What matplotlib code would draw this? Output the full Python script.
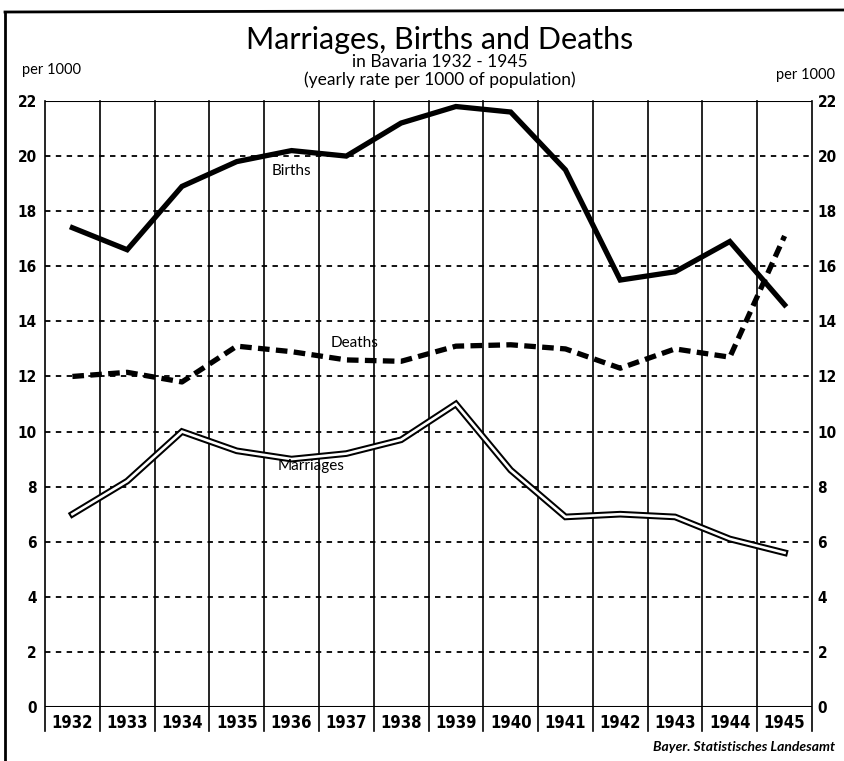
import matplotlib.pyplot as plt
import matplotlib.transforms as mtransforms
import numpy as np

years = ['1932', '1933', '1934', '1935', '1936', '1937', '1938',
         '1939', '1940', '1941', '1942', '1943', '1944', '1945']
births = [17.4, 16.6, 18.9, 19.8, 20.2, 20.0, 21.2, 21.8, 21.6, 19.5, 15.5, 15.8, 16.9, 14.6]
deaths = [12.0, 12.15, 11.8, 13.1, 12.9, 12.6, 12.55, 13.1, 13.15, 13.0, 12.3, 13.0, 12.7, 17.1]
marriages = [7.0, 8.2, 10.0, 9.3, 9.0, 9.2, 9.7, 11.0, 8.6, 6.9, 7.0, 6.9, 6.1, 5.6]
yticks = list(range(0, 23, 2))

plt.rcParams['font.family'] = ['DejaVu Sans']
plt.rcParams['font.stretch'] = 'condensed'

fig = plt.figure(figsize=(8.44, 7.61), dpi=100)
ax = fig.add_axes([45/844, 1 - 707/761, 767/844, 606/761])
x = np.arange(len(years))

ax.set_xlim(-0.5, len(years) - 0.5)
ax.set_ylim(0, 22)

# dashed horizontal grid
for v in yticks[1:-1]:
    ax.axhline(v, color='black', lw=1.3, ls=(0, (3, 3)), zorder=1)
ax.axhline(22, color='black', lw=1.5, zorder=1)
ax.axhline(0, color='black', lw=2.2, zorder=3)

# vertical column lines, running down past the axis
trans = mtransforms.blended_transform_factory(ax.transData, ax.transAxes)
for b in np.arange(-0.5, len(years), 1.0):
    ax.plot([b, b], [-0.04, 1], color='black', lw=1.2, transform=trans,
            clip_on=False, zorder=1)

for s in ax.spines.values():
    s.set_visible(False)

ax.set_xticks([])
ax.set_yticks(yticks)
ax.tick_params(axis='y', length=0, labelsize=11, pad=6)
for t in ax.get_yticklabels():
    t.set_fontweight('bold')
ax2 = ax.twinx()
ax2.set_ylim(0, 22)
ax2.set_yticks(yticks)
ax2.tick_params(axis='y', length=0, labelsize=11, pad=4)
for t in ax2.get_yticklabels():
    t.set_fontweight('bold')
for s in ax2.spines.values():
    s.set_visible(False)

for i, yr in enumerate(years):
    ax.text(i, -0.012, yr, transform=trans, ha='center', va='top',
            fontsize=12, fontweight='bold')

# series
ax.plot(x, births, color='black', lw=3.8, solid_joinstyle='miter', zorder=4)
ax.plot(x, deaths, color='black', lw=3.8, ls=(0, (2.2, 1.2)), zorder=4)
ax.plot(x, marriages, color='black', lw=4.8, solid_joinstyle='miter', zorder=4)
ax.plot(x, marriages, color='white', lw=1.9, solid_joinstyle='miter', zorder=5)

ax.text(4.0, 19.45, 'Births', ha='center', va='center', fontsize=11,
        family=['Lato', 'DejaVu Sans'], zorder=6)
ax.text(5.15, 13.2, 'Deaths', ha='center', va='center', fontsize=11,
        family=['Lato', 'DejaVu Sans'], zorder=6)
ax.text(4.35, 8.75, 'Marriages', ha='center', va='center', fontsize=11,
        family=['Lato', 'DejaVu Sans'], zorder=6)

# titles
fig.text(440/844, 1 - 40/761, 'Marriages, Births and Deaths', ha='center',
         va='center', fontsize=22, family=['Lato', 'DejaVu Sans'])
fig.text(440/844, 1 - 62/761, 'in Bavaria 1932 - 1945', ha='center',
         va='center', fontsize=12.5, family=['Lato', 'DejaVu Sans'])
fig.text(440/844, 1 - 80/761, '(yearly rate per 1000 of population)', ha='center',
         va='center', fontsize=12.5, family=['Lato', 'DejaVu Sans'])
fig.text(22/844, 1 - 70/761, 'per 1000', ha='left', va='center', fontsize=10.5,
         family=['Lato', 'DejaVu Sans'])
fig.text(835/844, 1 - 75/761, 'per 1000', ha='right', va='center', fontsize=10.5,
         family=['Lato', 'DejaVu Sans'])
fig.text(835/844, 1 - 747/761, 'Bayer. Statistisches Landesamt', ha='right',
         va='center', fontsize=10, style='italic', fontweight='bold',
         family=['Lato', 'DejaVu Sans'])

# frame of the printed page
fig.add_artist(plt.Line2D([5/844, 5/844], [0, 1 - 12/761], color='black', lw=2))
fig.add_artist(plt.Line2D([5/844, 1], [1 - 12/761, 1 - 10/761], color='black', lw=2))

fig.savefig('out.png', dpi=100)
